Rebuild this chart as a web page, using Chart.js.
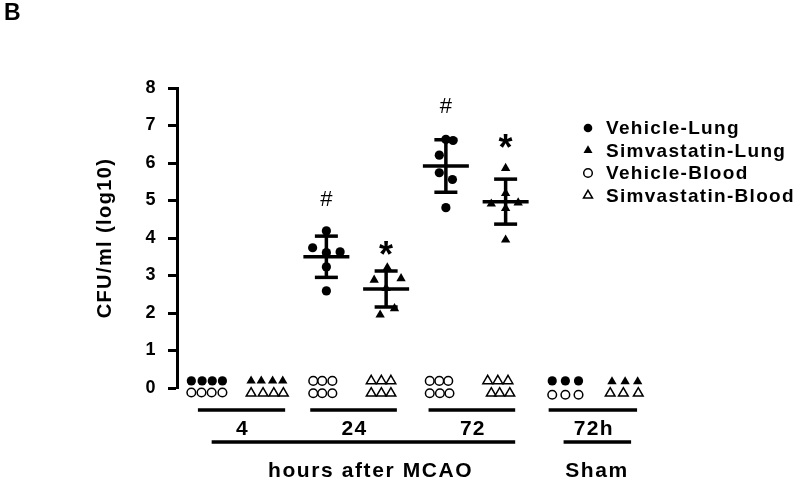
<!DOCTYPE html>
<html>
<head>
<meta charset="utf-8">
<script src="https://cdn.jsdelivr.net/npm/chart.js@4.4.1/dist/chart.umd.min.js"></script>
<style>
  html, body { margin: 0; padding: 0; background: #fff; }
</style>
</head>
<body>
<canvas id="myChart" width="800" height="485"></canvas>
<script>
// slot on the x axis: 0..7 = 4h, 24h, 72h, sham 72h (vehicle, simvastatin)
const vehicleSlot = [0, 2, 4, 6]
const simvaSlot = [1, 3, 5, 7]

// log10 CFU/ml per animal, one inner array per time point
const vehicleLung = [[0.19, 0.19, 0.19, 0.19], [4.19, 3.74, 3.61, 3.63, 3.23, 2.59], [6.63, 6.60, 6.21, 5.74, 5.56, 4.81], [0.19, 0.19, 0.19]]
const simvaLung = [[0.19, 0.19, 0.19, 0.19], [3.21, 2.88, 2.92, 2.66, 2.12, 1.95], [5.86, 5.19, 4.91, 4.94, 4.79, 3.95], [0.17, 0.17, 0.17]]
const vehicleBlood = [[-0.12, -0.12, -0.12, -0.12], [0.19, 0.19, 0.19, -0.14, -0.14, -0.14], [0.19, 0.19, 0.19, -0.14, -0.14, -0.14], [-0.18, -0.18, -0.18]]
const simvaBlood = [[-0.14, -0.14, -0.14, -0.14], [0.19, 0.19, 0.19, -0.14, -0.14, -0.14], [0.19, 0.19, 0.19, -0.14, -0.14, -0.14], [-0.14, -0.14, -0.14]]

// horizontal scatter of the dots inside a slot
const vehicleLungX = [[-0.26, -0.08, 0.09, 0.26], [0, -0.23, 0, 0.23, 0, 0], [0, 0.12, -0.11, -0.11, 0.11, 0], [-0.22, 0, 0.22]]
const simvaLungX = [[-0.26, -0.09, 0.1, 0.27], [0.02, -0.2, 0.25, 0, 0.14, -0.1], [0, 0, -0.24, 0.21, 0, 0], [-0.22, 0, 0.21]]
const vehicleBloodX = [[-0.26, -0.09, 0.08, 0.26], [-0.22, -0.07, 0.1, -0.22, -0.07, 0.1], [-0.27, -0.11, 0.04, -0.27, -0.1, 0.06], [-0.22, 0, 0.22]]
const simvaBloodX = [[-0.26, -0.06, 0.12, 0.28], [-0.25, -0.08, 0.08, -0.25, -0.08, 0.08], [-0.3, -0.13, 0.04, -0.24, -0.1, 0.07], [-0.25, -0.03, 0.22]]

// mean +- SD of the lung groups
const meanSlot = [2, 3, 4, 5]
const meanValues = [3.50, 2.64, 5.92, 4.97]
const sdValues = [0.55, 0.48, 0.70, 0.60]
const markText = ['#', '*', '#', '*']
const markLevel = [5.07, 3.77, 7.55, 6.61]

// brackets under the axis
const timeLabels = ['4', '24', '72', '72h']
const bracketFrom = [-0.15, 1.73, 3.71, 5.72]
const bracketTo = [1.31, 3.18, 5.16, 7.2]
const groupLabels = ['hours after MCAO', 'Sham']
const groupFrom = [0.08, 5.97]
const groupTo = [5.16, 7.1]

const font = 'Arial, "Liberation Sans", sans-serif'

function spread(values, offsets, slots) {
    const pts = []
    for (let g = 0; g < values.length; g++) {
        for (let i = 0; i < values[g].length; i++) {
            pts.push({ x: slots[g] + offsets[g][i], y: values[g][i] })
        }
    }
    return pts
}

const meanPts = []
const capPts = []
const barPts = []
for (let i = 0; i < meanValues.length; i++) {
    meanPts.push({ x: meanSlot[i], y: meanValues[i] })
    capPts.push({ x: meanSlot[i], y: meanValues[i] + sdValues[i] })
    capPts.push({ x: meanSlot[i], y: meanValues[i] - sdValues[i] })
    barPts.push({ x: meanSlot[i], y: meanValues[i] - sdValues[i] })
    barPts.push({ x: meanSlot[i], y: meanValues[i] + sdValues[i] })
    barPts.push({ x: meanSlot[i], y: null })
}

function markerPath(ctx, style, r, x, y) {
    ctx.beginPath()
    if (style === 'triangle') {
        let rad = 0
        ctx.moveTo(x + Math.sin(rad) * r, y - Math.cos(rad) * r)
        rad += Math.PI * 2 / 3
        ctx.lineTo(x + Math.sin(rad) * r, y - Math.cos(rad) * r)
        rad += Math.PI * 2 / 3
        ctx.lineTo(x + Math.sin(rad) * r, y - Math.cos(rad) * r)
        ctx.closePath()
    } else {
        ctx.arc(x, y, r, 0, Math.PI * 2)
    }
}

const extras = {
    id: 'extras',
    beforeDraw(chart) {
        chart.ctx.letterSpacing = '1.4px'
    },
    afterDraw(chart) {
        const ctx = chart.ctx
        const xs = chart.scales.x
        const ys = chart.scales.y
        const bottom = chart.chartArea.bottom
        ctx.save()
        ctx.strokeStyle = '#000'
        ctx.fillStyle = '#000'
        ctx.lineWidth = 3.5
        ctx.lineCap = 'butt'

        // significance marks
        ctx.textAlign = 'center'
        ctx.textBaseline = 'alphabetic'
        ctx.letterSpacing = '0px'
        for (let i = 0; i < markText.length; i++) {
            const px = xs.getPixelForValue(meanSlot[i])
            const py = ys.getPixelForValue(markLevel[i])
            if (markText[i] === '#') {
                ctx.font = '22px ' + font
                ctx.fillText('#', px, py + 8)
            } else {
                ctx.font = 'bold 36px ' + font
                ctx.fillText('*', px, py + 20)
            }
        }

        // time brackets
        ctx.font = 'bold 21px ' + font
        ctx.letterSpacing = '1.3px'
        ctx.textBaseline = 'middle'
        for (let i = 0; i < timeLabels.length; i++) {
            const a = xs.getPixelForValue(bracketFrom[i])
            const b = xs.getPixelForValue(bracketTo[i])
            ctx.beginPath()
            ctx.moveTo(a, bottom + 22)
            ctx.lineTo(b, bottom + 22)
            ctx.stroke()
            ctx.fillText(timeLabels[i], (a + b) / 2 + 1, bottom + 41)
        }
        ctx.letterSpacing = '1.6px'
        for (let i = 0; i < groupLabels.length; i++) {
            const a = xs.getPixelForValue(groupFrom[i])
            const b = xs.getPixelForValue(groupTo[i])
            ctx.beginPath()
            ctx.moveTo(a, bottom + 54)
            ctx.lineTo(b, bottom + 54)
            ctx.stroke()
        }
        ctx.fillText(groupLabels[0], xs.getPixelForValue(2.74), bottom + 83)
        ctx.fillText(groupLabels[1], xs.getPixelForValue(6.53), bottom + 83)

        // legend
        ctx.font = 'bold 19px ' + font
        ctx.letterSpacing = '1.3px'
        ctx.textAlign = 'left'
        const sets = chart.data.datasets.slice(0, 4)
        for (let i = 0; i < sets.length; i++) {
            const ds = sets[i]
            const ly = 128 + i * 22.5
            const r = ds.pointStyle === 'triangle' ? 5.2 : 4.3
            markerPath(ctx, ds.pointStyle, r, 588, ly)
            ctx.fillStyle = ds.pointBackgroundColor
            ctx.fill()
            if (ds.pointBorderWidth > 0) {
                ctx.lineWidth = 1.5
                ctx.stroke()
            }
            ctx.fillStyle = '#000'
            ctx.fillText(ds.label, 606, ly + 1)
        }
        ctx.restore()
    }
}

const ctx = document.getElementById('myChart').getContext('2d')
const myChart = new Chart(ctx, {
    type: 'scatter',
    data: {
        datasets: [{
            label: 'Vehicle-Lung',
            data: spread(vehicleLung, vehicleLungX, vehicleSlot),
            pointStyle: 'circle',
            pointRadius: 4.6,
            pointHoverRadius: 12,
            pointBackgroundColor: '#000',
            pointBorderColor: '#000',
            pointBorderWidth: 0,
            clip: false
        }, {
            label: 'Simvastatin-Lung',
            data: spread(simvaLung, simvaLungX, simvaSlot),
            pointStyle: 'triangle',
            pointRadius: 5.4,
            pointHoverRadius: 12,
            pointBackgroundColor: '#000',
            pointBorderColor: '#000',
            pointBorderWidth: 0,
            clip: false
        }, {
            label: 'Vehicle-Blood',
            data: spread(vehicleBlood, vehicleBloodX, vehicleSlot),
            pointStyle: 'circle',
            pointRadius: 4.3,
            pointHoverRadius: 12,
            pointBackgroundColor: '#fff',
            pointBorderColor: '#000',
            pointBorderWidth: 1.5,
            clip: false
        }, {
            label: 'Simvastatin-Blood',
            data: spread(simvaBlood, simvaBloodX, simvaSlot),
            pointStyle: 'triangle',
            pointRadius: 5.6,
            pointHoverRadius: 12,
            pointBackgroundColor: '#fff',
            pointBorderColor: '#000',
            pointBorderWidth: 1.5,
            clip: false
        }, {
            label: 'mean',
            data: meanPts,
            pointStyle: 'line',
            pointRadius: 23,
            pointBorderColor: '#000',
            pointBorderWidth: 3.5
        }, {
            label: 'sd caps',
            data: capPts,
            pointStyle: 'line',
            pointRadius: 11.5,
            pointBorderColor: '#000',
            pointBorderWidth: 3.5
        }, {
            label: 'sd',
            data: barPts,
            showLine: true,
            spanGaps: false,
            borderColor: '#000',
            borderWidth: 3.5,
            pointRadius: 0
        }]
    },
    options: {
        responsive: false,
        animation: false,
        events: [],
        layout: { padding: { left: 4, right: 145, top: 0, bottom: 97 } },
        plugins: {
            legend: { display: false },
            tooltip: { enabled: false },
            title: {
                display: true,
                text: 'B',
                align: 'start',
                color: '#000',
                font: { family: font, size: 23, weight: 'bold' },
                padding: { top: 0, bottom: 60.4 }
            }
        },
        scales: {
            x: {
                type: 'linear',
                display: false,
                min: -0.5,
                max: 7.5
            },
            y: {
                min: 0,
                max: 8,
                afterFit(scale) { scale.width = 173 },
                ticks: {
                    stepSize: 1,
                    color: '#000',
                    padding: 11,
                    font: { family: font, size: 18, weight: 'bold' }
                },
                grid: {
                    drawOnChartArea: false,
                    tickLength: 9,
                    tickWidth: 3,
                    tickColor: '#000'
                },
                border: { color: '#000', width: 3 },
                title: {
                    display: true,
                    text: 'CFU/ml (log10)',
                    color: '#000',
                    font: { family: font, size: 20, weight: 'bold' },
                    padding: { top: 89, bottom: 0 }
                }
            }
        }
    },
    plugins: [extras]
})
</script>
</body>
</html>
